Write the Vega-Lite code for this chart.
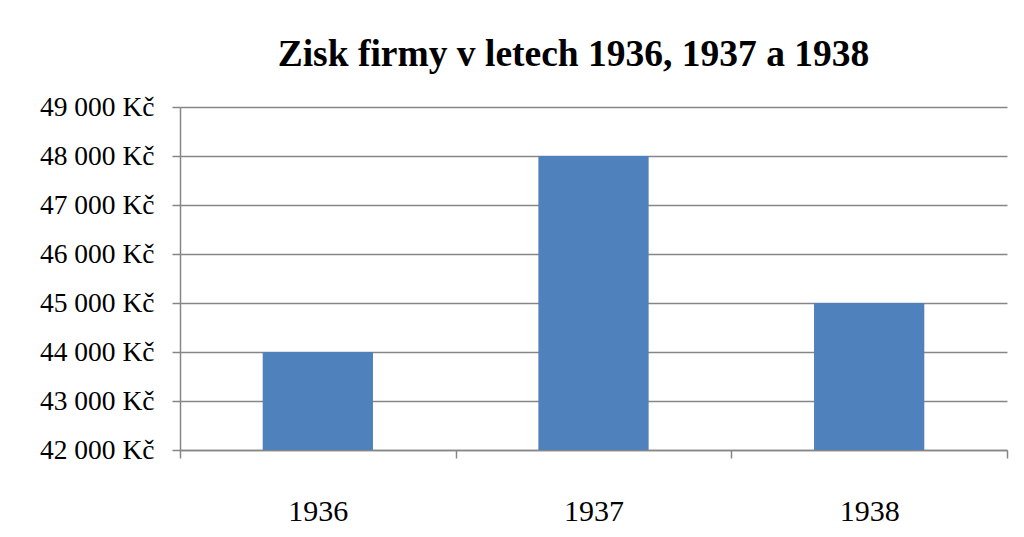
{
  "$schema": "https://vega.github.io/schema/vega-lite/v6.json",
  "autosize": {"type": "none"},
  "width": 827,
  "height": 343,
  "padding": {"left": 180, "top": 107, "right": 17, "bottom": 87},
  "background": "white",
  "title": {
    "text": "Zisk firmy v letech 1936, 1937 a 1938",
    "font": "Liberation Serif",
    "fontSize": 37.5,
    "fontWeight": "bold",
    "color": "black",
    "anchor": "middle",
    "dx": -20,
    "offset": 20
  },
  "data": {
    "values": [
      {"rok": "1936", "zisk": 44000},
      {"rok": "1937", "zisk": 48000},
      {"rok": "1938", "zisk": 45000}
    ]
  },
  "mark": {"type": "bar", "color": "#4F81BD", "clip": true, "width": {"band": 0.4}},
  "encoding": {
    "x": {
      "field": "rok",
      "type": "nominal",
      "title": null,
      "scale": {"paddingInner": 0, "paddingOuter": 0},
      "axis": {
        "labelAngle": 0,
        "labelFont": "Liberation Serif",
        "labelFontSize": 30,
        "labelColor": "black",
        "labelPadding": 38,
        "tickBand": "extent",
        "tickSize": 8,
        "tickColor": "#868686",
        "tickWidth": 1.5,
        "domainColor": "#868686",
        "domainWidth": 1.5,
        "grid": false
      }
    },
    "y": {
      "field": "zisk",
      "type": "quantitative",
      "title": null,
      "scale": {"domain": [42000, 49000], "zero": false, "nice": false},
      "axis": {
        "values": [42000, 43000, 44000, 45000, 46000, 47000, 48000, 49000],
        "labelExpr": "replace(format(datum.value, ',d'), ',', ' ') + ' Kč'",
        "labelFont": "Liberation Serif",
        "labelFontSize": 27.5,
        "labelColor": "black",
        "labelPadding": 18,
        "tickSize": 8,
        "tickColor": "#868686",
        "tickWidth": 1.5,
        "domainColor": "#868686",
        "domainWidth": 1.5,
        "grid": true,
        "gridColor": "#868686",
        "gridWidth": 1.5
      }
    }
  },
  "config": {"view": {"stroke": null}}
}
